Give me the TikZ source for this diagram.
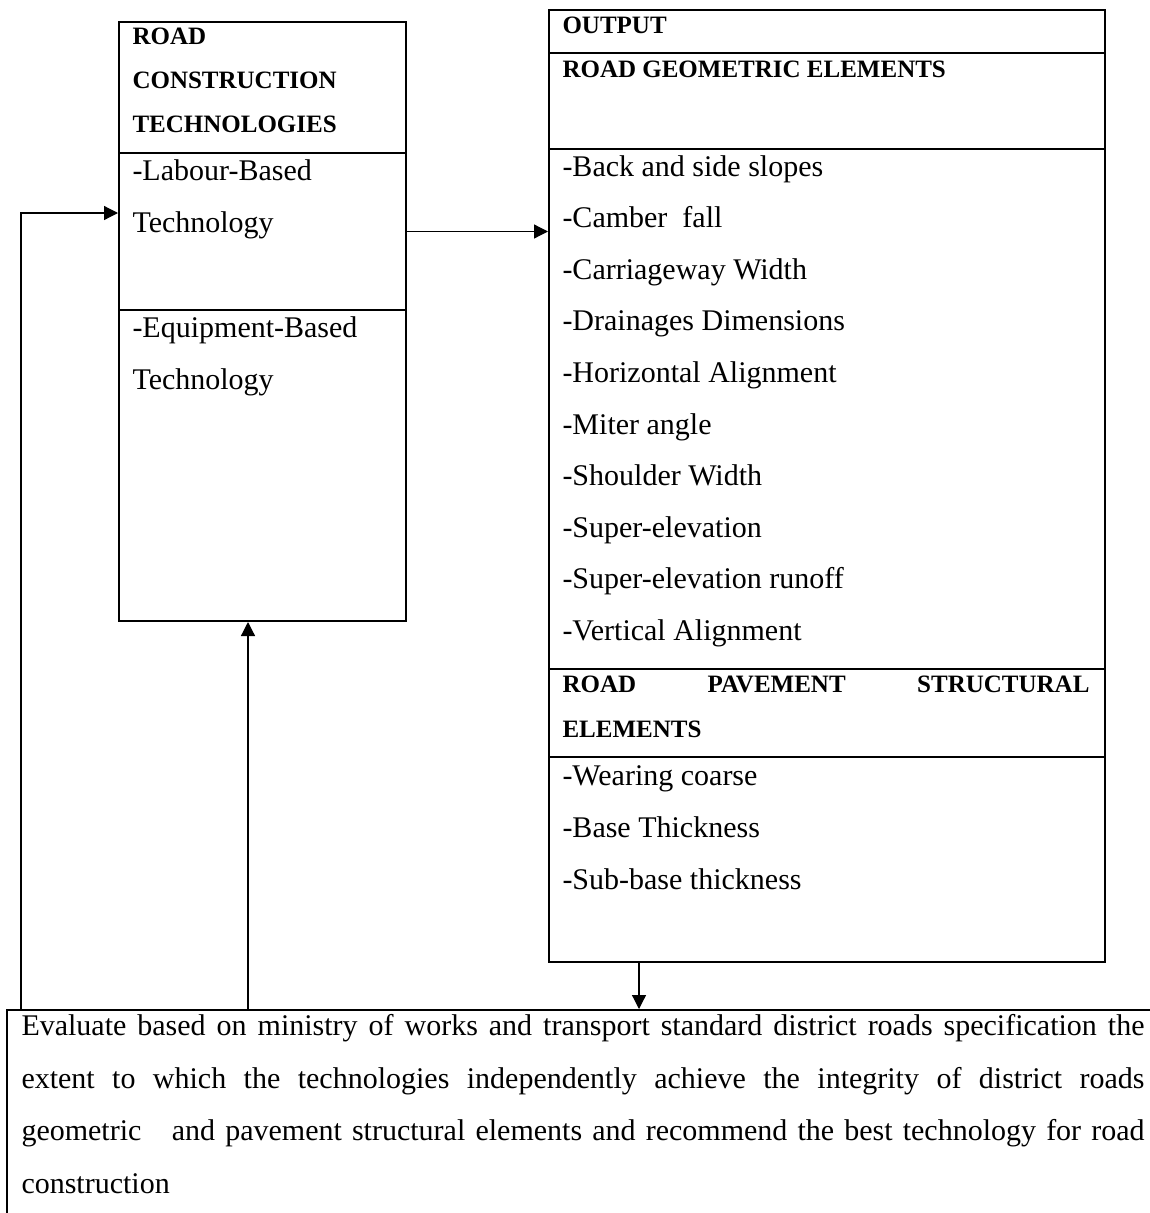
\documentclass[tikz,border=0pt]{standalone}
\usepackage{fontspec}
\setmainfont{Liberation Serif}
\usetikzlibrary{arrows.meta}

\begin{document}
\begin{tikzpicture}[x=0.4pt,y=-0.4pt,
  cell/.style={draw,line width=0.8pt,inner sep=0,anchor=north west},
  txt/.style={inner sep=0,anchor=base west,font=\fontsize{12}{14}\selectfont},
  head/.style={inner sep=0,anchor=base west,font=\fontsize{10}{11}\selectfont\bfseries},
  arr/.style={line width=0.5pt,-{Triangle[length=5.6pt,width=5.6pt]}}]

\useasboundingbox (0,0) rectangle (1150,1213);
\clip (0,0) rectangle (1150,1213);

% technologies box
\node[cell,minimum width=114.8pt,minimum height=52.4pt] (techhead) at (118,21) {};
\node[cell,minimum width=114.8pt,minimum height=62.8pt] (labour) at (118,152) {};
\node[cell,minimum width=114.8pt,minimum height=124.4pt] (equip) at (118,309) {};
\node[head] (th1) at (132,44) {ROAD};
\node[head] (th2) at (132,88) {CONSTRUCTION};
\node[head] (th3) at (132,132) {TECHNOLOGIES};
\node[txt] (lab1) at (132,180) {-Labour-Based};
\node[txt] (lab2) at (132,232) {Technology};
\node[txt] (eq1) at (132,337) {-Equipment-Based};
\node[txt] (eq2) at (132,389) {Technology};

% output box
\node[cell,minimum width=222.4pt,minimum height=17.2pt] (output) at (548,9) {};
\node[cell,minimum width=222.4pt,minimum height=38.4pt] (geohead) at (548,52) {};
\node[cell,minimum width=222.4pt,minimum height=208pt] (geolist) at (548,148) {};
\node[cell,minimum width=222.4pt,minimum height=35.2pt] (pavehead) at (548,668) {};
\node[cell,minimum width=222.4pt,minimum height=82pt] (pavelist) at (548,756) {};
\node[head] (out) at (562,33) {OUTPUT};
\node[head] (geo) at (562,77) {ROAD GEOMETRIC ELEMENTS};
\foreach \t [count=\i from 0] in {-Back and side slopes,-Camber~~fall,-Carriageway Width,
  -Drainages Dimensions,-Horizontal Alignment,-Miter angle,-Shoulder Width,
  -Super-elevation,-Super-elevation runoff,-Vertical Alignment}
  \node[txt] (g\i) at (562,{176+51.6*\i}) {\t};
\node[head] (pave1) at (562,692) {\makebox[210.8pt][s]{ROAD PAVEMENT STRUCTURAL}};
\node[head] (pave2) at (562,737) {ELEMENTS};
\node[txt] (p1) at (562,785) {-Wearing coarse};
\node[txt] (p2) at (562,837) {-Base Thickness};
\node[txt] (p3) at (562,889) {-Sub-base thickness};

% evaluation box
\node[cell,minimum width=461.6pt,minimum height=86.4pt] (evaluate) at (6,1009) {};
\node[txt] (ev1) at (21,1035) {\makebox[449.2pt][s]{Evaluate based on ministry of works and transport standard district roads specification the}};
\node[txt] (ev2) at (21,1088) {\makebox[449.2pt][s]{extent to which the technologies independently achieve the integrity of district roads}};
\node[txt] (ev3) at (21,1140) {\makebox[449.2pt][s]{geometric~~~and pavement structural elements and recommend the best technology for road}};
\node[txt] (ev4) at (21,1193) {construction};

% arrows
\draw[arr] (labour.east) -- (labour.east -| geolist.west);
\draw[arr] ([xshift=6pt]evaluate.north west) |- ([yshift=7.4pt]labour.west);
\draw[arr] ([xshift=-5.8pt]equip.south |- evaluate.north) -- ([xshift=-5.8pt]equip.south);
\draw[arr] ([xshift=-75.2pt]pavelist.south) -- ([xshift=-75.2pt]pavelist.south |- evaluate.north);

\end{tikzpicture}
\end{document}
